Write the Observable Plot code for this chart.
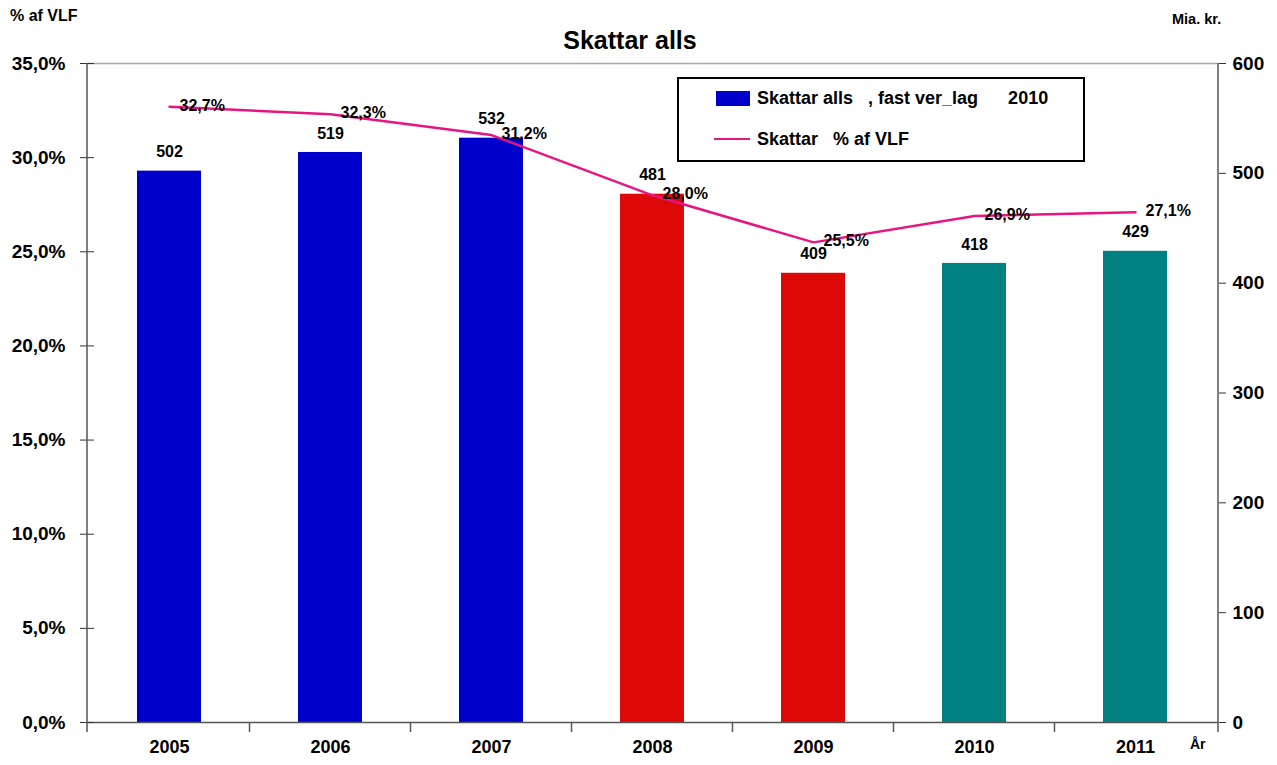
<!DOCTYPE html>
<html>
<head>
<meta charset="utf-8">
<script src="https://cdn.jsdelivr.net/npm/d3@7"></script>
<script src="https://cdn.jsdelivr.net/npm/@observablehq/plot@0.6"></script>
<style>
  body { margin: 0; background: #fff; }
  #wrap { position: relative; width: 1277px; height: 765px; font-family: "Liberation Sans", Arial, sans-serif; font-weight: bold; color: #000; }
  .lbl { position: absolute; white-space: pre; line-height: 1; }
  #legend { position: absolute; left: 677px; top: 77px; width: 404px; height: 81px; border: 2px solid #000; background: #fff; }
  .sw { position: absolute; }
</style>
</head>
<body>
<div id="wrap">
  <div id="chart"></div>
  <div class="lbl" style="left:10px; top:8px; font-size:16px;">% af VLF</div>
  <div class="lbl" style="left:1172px; top:12px; font-size:14.5px;">Mia. kr.</div>
  <div class="lbl" style="left:0; width:1260px; text-align:center; top:28px; font-size:25px;">Skattar alls</div>
  <div class="lbl" style="left:1190px; top:737px; font-size:14px;">År</div>
  <div id="legend">
    <div class="sw" style="left:37px; top:12px; width:34px; height:15px; background:#0000CC;"></div>
    <div class="lbl" style="left:78px; top:10px; font-size:18px;">Skattar alls   , fast ver_lag      2010</div>
    <div class="sw" style="left:35px; top:59px; width:36px; height:2px; background:#E8147F;"></div>
    <div class="lbl" style="left:78px; top:51px; font-size:18px;">Skattar   % af VLF</div>
  </div>
</div>
<script>
const years = ["2005", "2006", "2007", "2008", "2009", "2010", "2011"];
const values = [502, 519, 532, 481, 409, 418, 429];
const pcts = [32.7, 32.3, 31.2, 28.0, 25.5, 26.9, 27.1];
const barColors = ["#0000CC", "#0000CC", "#0000CC", "#DD0808", "#DD0808", "#008080", "#008080"];
const leftTicks = [0, 5, 10, 15, 20, 25, 30, 35];
const rightTicks = [0, 100, 200, 300, 400, 500, 600];
const leftMax = 35, rightMax = 600;

const fmtPct = p => p.toFixed(1).replace(".", ",") + "%";
const toRight = p => p / leftMax * rightMax;

const data = years.map((y, i) => ({year: y, value: values[i], pct: pcts[i], color: barColors[i]}));
const font = "Liberation Sans, Arial, sans-serif";

const chart = Plot.plot({
  width: 1277,
  height: 765,
  marginLeft: 87,
  marginRight: 59,
  marginTop: 63,
  marginBottom: 43,
  style: {fontFamily: font, fontWeight: "bold", color: "#000", background: "transparent"},
  x: {type: "band", domain: years, paddingInner: 0.6, paddingOuter: 0.3, axis: null},
  y: {domain: [0, rightMax], axis: null},
  color: {type: "identity"},
  marks: [
    Plot.ruleY([rightMax], {stroke: "#a8a8a8", strokeWidth: 1.5}),
    Plot.barY(data, {x: "year", y: "value", fill: "color"}),
    Plot.ruleY([0], {stroke: "#555", strokeWidth: 1.5}),
    Plot.lineY(data, {x: "year", y: d => toRight(d.pct), stroke: "#E8147F", strokeWidth: 2.5}),
    Plot.text(data, {x: "year", y: "value", text: d => String(d.value), dy: -19, fontSize: 16, fontWeight: "bold", fill: "#000"}),
    Plot.text(data, {x: "year", y: d => toRight(d.pct), text: d => fmtPct(d.pct), dx: 10, dy: -1, textAnchor: "start", fontSize: 16, fontWeight: "bold", fill: "#000"}),
    Plot.axisY({anchor: "right", ticks: rightTicks, tickFormat: d => String(d), tickSize: 7, tickPadding: 7, fontSize: 19, fontWeight: "bold", label: null, stroke: "#333"}),
    Plot.axisY({anchor: "left", ticks: leftTicks.map(toRight), tickFormat: (d, i) => fmtPct(leftTicks[i]), tickSize: 7, tickPadding: 15, fontSize: 19, fontWeight: "bold", label: null, stroke: "#333"}),
    Plot.axisY({anchor: "left", ticks: leftTicks.map(toRight), tickFormat: () => "", tickSize: -7, label: null, stroke: "#333"}),
    Plot.axisX({domain: years, tickSize: 0, tickPadding: 18, fontSize: 18, fontWeight: "bold", label: null})
  ]
});
document.getElementById("chart").appendChild(chart);

// axis lines and category separators, positioned from Plot's own scales
const xs = chart.scale("x"), ys = chart.scale("y");
const svg = d3.select(chart);
const x0 = xs.range[0], x1 = xs.range[1];
const yTop = ys.apply(rightMax), yBot = ys.apply(0);
const step = xs.step ?? (x1 - x0) / years.length;
const gap = step - xs.bandwidth;
const g = svg.append("g").attr("stroke", "#555").attr("stroke-width", 1.5);
g.append("line").attr("x1", x0).attr("x2", x0).attr("y1", yTop).attr("y2", yBot + 10);
g.append("line").attr("x1", x1).attr("x2", x1).attr("y1", yTop).attr("y2", yBot + 10);
years.slice(1).forEach(y => {
  const bx = xs.apply(y) - gap / 2;
  g.append("line").attr("x1", bx).attr("x2", bx).attr("y1", yBot).attr("y2", yBot + 10);
});
</script>
</body>
</html>
